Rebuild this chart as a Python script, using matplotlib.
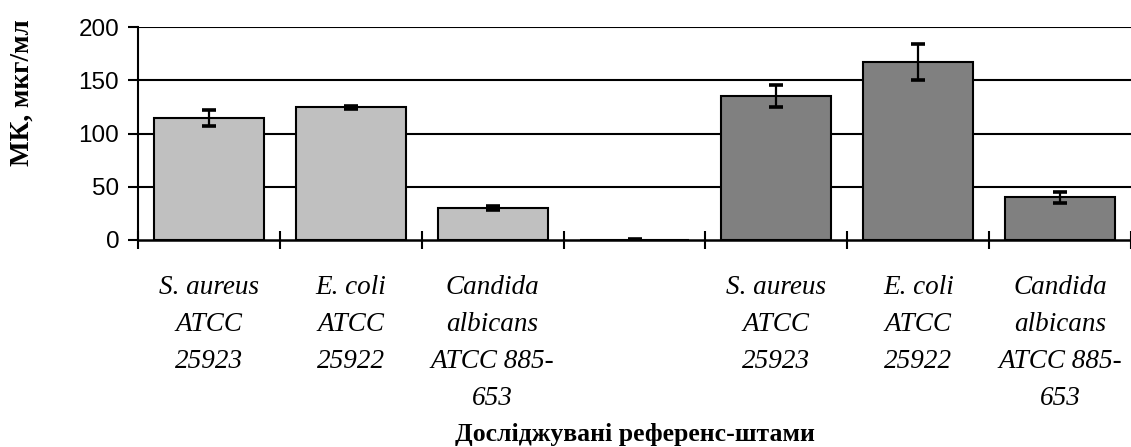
import matplotlib
matplotlib.use("Agg")
import matplotlib.pyplot as plt
import numpy as np

# Data
categories = ["S. aureus\nATCC\n25923", "E. coli\nATCC\n25922", "Candida\nalbicans\nATCC 885-\n653",
              "",
              "S. aureus\nATCC\n25923", "E. coli\nATCC\n25922", "Candida\nalbicans\nATCC 885-\n653"]
values = [114.5, 124.5, 30, 0, 135, 167.5, 40]
errors = [7.5, 1.5, 1.5, 0.5, 10.5, 17, 5]
bar_colors = ["#C0C0C0", "#C0C0C0", "#C0C0C0", "#C0C0C0", "#808080", "#808080", "#808080"]
y_ticks = [0, 50, 100, 150, 200]
y_label = "МК, мкг/мл"
x_label = "Досліджувані референс-штами"

fig = plt.figure(figsize=(11.31, 4.47), dpi=100)
ax = fig.add_axes([138/1131, 1-240/447, 1-138/1131, (240-27)/447])

x = np.arange(len(categories))
ax.set_axisbelow(True)
for yv in y_ticks[1:]:
    ax.axhline(yv, color="black", lw=1.5, zorder=0)

ax.bar(x, values, width=0.775, color=bar_colors, edgecolor="black", linewidth=1.5, zorder=2)
ax.errorbar(x, values, yerr=errors, fmt="none", ecolor="black", elinewidth=1.6,
            capsize=5, capthick=2.6, zorder=3)

ax.set_xlim(-0.5, 6.5)
ax.set_ylim(0, 200)
ax.set_yticks(y_ticks)
ax.set_yticklabels([str(v) for v in y_ticks], fontfamily="Liberation Sans", fontsize=17.5)
ax.tick_params(axis="y", direction="out", length=7, width=1.5, pad=6.5)

ax.set_xticks(x)
ax.set_xticklabels(categories, fontfamily="Liberation Serif", fontstyle="italic",
                   fontsize=19.5, linespacing=1.64, va="top")
ax.tick_params(axis="x", which="major", length=0, pad=25)
ax.set_xticks(np.arange(-0.5, 7.0, 1.0), minor=True)
ax.tick_params(axis="x", which="minor", direction="inout", length=13, width=1.5)

for s in ["top", "right"]:
    ax.spines[s].set_visible(False)
ax.spines["left"].set_linewidth(1.5)
ax.spines["bottom"].set_linewidth(1.8)

fig.text(22/1131, 1-93/447, y_label, rotation=90, ha="center", va="center",
         fontfamily="Liberation Serif", fontweight="bold", fontsize=19.5)
fig.text(635/1131, 1-434/447, x_label, ha="center", va="center",
         fontfamily="Liberation Serif", fontweight="bold", fontsize=18.5)

fig.savefig("out.png", dpi=100)
